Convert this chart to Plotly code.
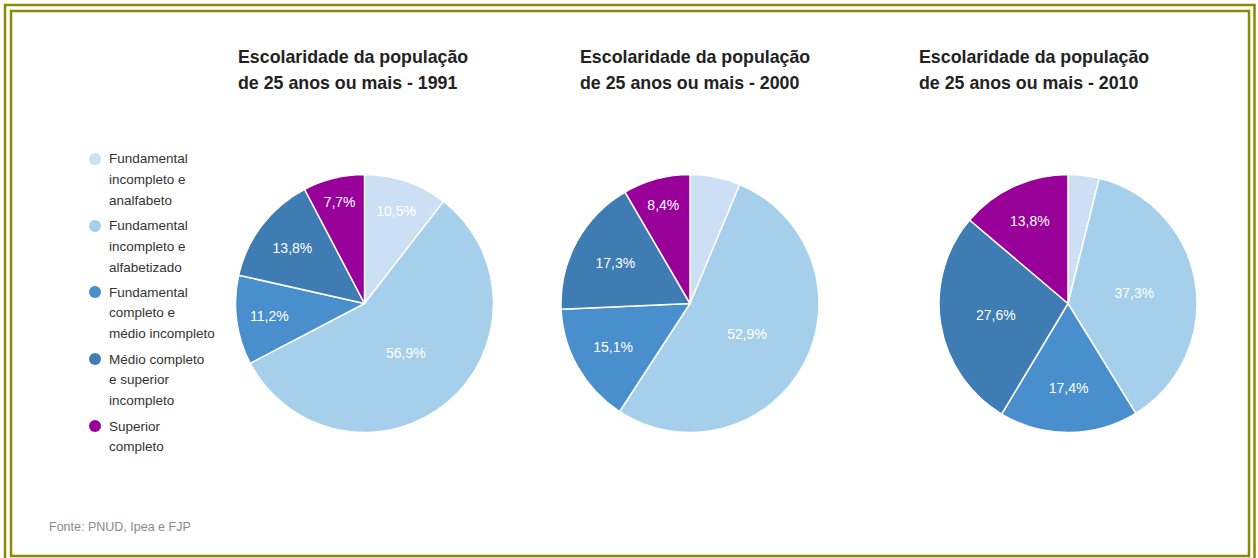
import plotly.graph_objects as go

W, H = 1258, 558

categories = [
    "Fundamental incompleto e analfabeto",
    "Fundamental incompleto e alfabetizado",
    "Fundamental completo e médio incompleto",
    "Médio completo e superior incompleto",
    "Superior completo",
]
legend_lines = [
    ["Fundamental", "incompleto e", "analfabeto"],
    ["Fundamental", "incompleto e", "alfabetizado"],
    ["Fundamental", "completo e", "médio incompleto"],
    ["Médio completo", "e superior", "incompleto"],
    ["Superior", "completo"],
]
years = ["1991", "2000", "2010"]
values_1991 = [10.5, 56.9, 11.2, 13.8, 7.7]
values_2000 = [6.3, 52.9, 15.1, 17.3, 8.4]
values_2010 = [3.9, 37.3, 17.4, 27.6, 13.8]
shown_1991 = [True, True, True, True, True]
shown_2000 = [False, True, True, True, True]
shown_2010 = [False, True, True, True, True]
colors = ["#cddff5", "#a5cfeb", "#4a8fcd", "#3e7cb3", "#990099"]

title_text = ["Escolaridade da população", "de 25 anos ou mais - {}"]
source_text = "Fonte: PNUD, Ipea e FJP"

# layout (pixels)
pie_cx = [364.5, 690, 1068]
pie_cy = 303.5
pie_d = 258
title_x = [236, 578, 917]

def px(x):
    return x / W

def py(y):
    return 1 - y / H

fig = go.Figure()
series = [(values_1991, shown_1991), (values_2000, shown_2000), (values_2010, shown_2010)]
for i, (vals, shown) in enumerate(series):
    txt = [(f"{v:.1f}".replace(".", ",") + "%") if s else "" for v, s in zip(vals, shown)]
    cx = pie_cx[i]
    fig.add_trace(go.Pie(
        labels=categories,
        values=vals,
        text=txt,
        textinfo="text",
        textposition="inside",
        insidetextorientation="horizontal",
        textfont=dict(family="Liberation Sans, Arial, sans-serif", size=14, color="white"),
        marker=dict(colors=colors, line=dict(color="white", width=1.5)),
        sort=False,
        direction="clockwise",
        rotation=0,
        hoverinfo="label+percent",
        domain=dict(x=[px(cx - pie_d / 2), px(cx + pie_d / 2)],
                    y=[py(pie_cy + pie_d / 2), py(pie_cy - pie_d / 2)]),
        showlegend=False,
    ))

annotations = []
for i, yr in enumerate(years):
    for j, (line, yc) in enumerate(zip(title_text, [57, 83])):
        annotations.append(dict(
            x=px(title_x[i]), y=py(yc), xref="paper", yref="paper",
            xanchor="left", yanchor="middle", showarrow=False,
            text="<b>" + line.format(yr) + "</b>",
            font=dict(family="Liberation Sans, Arial, sans-serif", size=17.8, color="#222222"),
        ))

shapes = []
item_y = [159, 226, 292, 359, 426]
for k, lines in enumerate(legend_lines):
    y0 = item_y[k]
    shapes.append(dict(type="circle", xref="paper", yref="paper",
                       x0=px(89), x1=px(101), y0=py(y0 + 6), y1=py(y0 - 6),
                       fillcolor=colors[k], line=dict(width=0)))
    for li, t in enumerate(lines):
        annotations.append(dict(
            x=px(107), y=py(y0 + li * 20.5), xref="paper", yref="paper",
            xanchor="left", yanchor="middle", showarrow=False, text=t,
            font=dict(family="Liberation Sans, Arial, sans-serif", size=13.5, color="#333333"),
        ))

annotations.append(dict(
    x=px(47), y=py(527), xref="paper", yref="paper", xanchor="left", yanchor="middle",
    showarrow=False, text=source_text,
    font=dict(family="Liberation Sans, Arial, sans-serif", size=12.5, color="#8a8a8a"),
))

# double olive frame
olive = "#8a8a00"
shapes.append(dict(type="rect", xref="paper", yref="paper",
                   x0=px(5), x1=px(1254.5), y0=py(562), y1=py(5),
                   line=dict(color=olive, width=2.5), fillcolor="rgba(0,0,0,0)"))
shapes.append(dict(type="rect", xref="paper", yref="paper",
                   x0=px(11), x1=px(1249), y0=py(556), y1=py(11),
                   line=dict(color=olive, width=2.5), fillcolor="rgba(0,0,0,0)"))

fig.update_layout(
    width=W, height=H,
    margin=dict(l=0, r=0, t=0, b=0),
    paper_bgcolor="white", plot_bgcolor="white",
    showlegend=False,
    annotations=annotations,
    shapes=shapes,
)

fig.write_html(
    "out.html",
    config={"displayModeBar": False},
    post_script="document.body.style.margin='0';document.body.style.overflow='hidden';",
)
